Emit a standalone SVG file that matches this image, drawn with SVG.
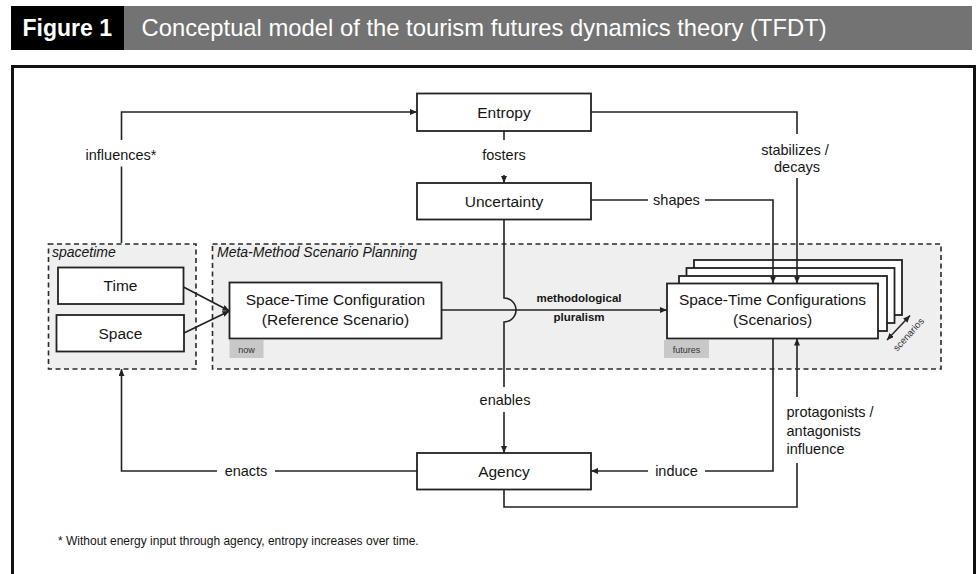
<svg xmlns="http://www.w3.org/2000/svg" width="980" height="574" viewBox="0 0 980 574">
<style>
text{font-family:"Liberation Sans",Arial,sans-serif;fill:#151515}
.box{fill:#fff;stroke:#222;stroke-width:1.8}
.grp{fill:#efefef;stroke:#2a2a2a;stroke-width:1.6;stroke-dasharray:5 3.5}
.ln{fill:none;stroke:#222;stroke-width:1.6}
.bt{font-size:15.5px;text-anchor:middle}
.lb{font-size:14.5px;text-anchor:middle}
.gl{font-size:14px;font-style:italic}
.tag{fill:#c8c8c8}
.tt{font-size:9px;text-anchor:middle;fill:#333}
.mp{font-size:11.5px;font-weight:bold;text-anchor:middle}
</style>
<defs>
<marker id="ah" markerUnits="userSpaceOnUse" markerWidth="7" markerHeight="6" refX="7" refY="3" orient="auto-start-reverse" viewBox="0 0 7 6">
<path d="M0,0 L7,3 L0,6 z" fill="#222"/>
</marker>
</defs>
<rect width="980" height="574" fill="#fff"/>
<g id="title">
<rect x="11" y="6" width="113" height="44" fill="#000"/>
<rect x="124" y="6" width="848" height="44" fill="#737373"/>
<text x="22.5" y="36" style="font-size:23px;font-weight:bold;fill:#fff">Figure 1</text>
<text x="141.5" y="36" style="font-size:23.8px;fill:#fff">Conceptual model of the tourism futures dynamics theory (TFDT)</text>
</g>
<rect x="12.5" y="66.5" width="962" height="520" fill="none" stroke="#111" stroke-width="3"/>
<g id="spacetime">
<rect class="grp" x="48.5" y="244" width="147.5" height="125"/>
<text class="gl" x="52" y="257">spacetime</text>
</g>
<g id="meta-method">
<rect class="grp" x="212.5" y="244" width="728.5" height="125"/>
<text class="gl" x="217" y="257">Meta-Method Scenario Planning</text>
</g>
<g id="entropy">
<rect class="box" x="417" y="93.5" width="174" height="37.5"/>
<text class="bt" x="504" y="117.5">Entropy</text>
</g>
<g id="uncertainty">
<rect class="box" x="417" y="183" width="174" height="36.5"/>
<text class="bt" x="504" y="206.5">Uncertainty</text>
</g>
<g id="time">
<rect class="box" x="58" y="267.5" width="125.5" height="36.5"/>
<text class="bt" x="120.5" y="291">Time</text>
</g>
<g id="space">
<rect class="box" x="56.5" y="315" width="127.5" height="36.5"/>
<text class="bt" x="120.5" y="338.5">Space</text>
</g>
<g id="reference-scenario">
<rect class="box" x="229.5" y="282.5" width="212" height="56"/>
<text class="bt" x="335.5" y="305">Space-Time Configuration</text>
<text class="bt" x="335.5" y="325">(Reference Scenario)</text>
<rect class="tag" x="229.5" y="340" width="34" height="18"/>
<text class="tt" x="246.5" y="352.5">now</text>
</g>
<g id="scenarios">
<rect class="box" x="694" y="260" width="208" height="55"/>
<rect class="box" x="686.5" y="268" width="208" height="55"/>
<rect class="box" x="679" y="276" width="208" height="55"/>
<rect class="box" x="667" y="283.5" width="211" height="55"/>
<text class="bt" x="772.5" y="305">Space-Time Configurations</text>
<text class="bt" x="772.5" y="325">(Scenarios)</text>
<rect class="tag" x="664" y="340" width="45" height="18"/>
<text class="tt" x="686.5" y="352.5">futures</text>
<path class="ln" d="M887,340 L910,315.5" marker-start="url(#ah)" marker-end="url(#ah)" style="stroke-width:1.5"/>
<text x="908" y="338" transform="rotate(-48 908 334)" style="font-size:9.5px;text-anchor:middle;fill:#333">scenarios</text>
</g>
<g id="agency">
<rect class="box" x="417" y="453" width="174" height="36.5"/>
<text class="bt" x="504" y="476.5">Agency</text>
</g>
<g id="connectors">
<path class="ln" d="M121.5,243 V166.5"/>
<path class="ln" d="M121.5,140 V112 H417" marker-end="url(#ah)"/>
<text class="lb" x="121" y="159.5">influences*</text>
<path class="ln" d="M504,131 V140"/>
<path class="ln" d="M504,175 V183" marker-end="url(#ah)"/>
<text class="lb" x="504" y="159.5">fosters</text>
<path class="ln" d="M591,112 H797 V134"/>
<path class="ln" d="M797,178 V283.5" marker-end="url(#ah)"/>
<text class="lb" x="795" y="155">stabilizes /</text>
<text class="lb" x="797" y="172">decays</text>
<path class="ln" d="M591,200 H648"/>
<path class="ln" d="M705,200 H773 V283.5" marker-end="url(#ah)"/>
<text class="lb" x="676.5" y="205">shapes</text>
<path class="ln" d="M183.5,287 L229.5,311" marker-end="url(#ah)"/>
<path class="ln" d="M184,333 L229.5,311" marker-end="url(#ah)"/>
<path class="ln" d="M441.5,310 H667" marker-end="url(#ah)"/>
<text class="mp" x="579" y="302">methodological</text>
<text class="mp" x="579" y="321">pluralism</text>
<path class="ln" d="M504,219.5 V298 A12,12 0 0 1 504,322 V387"/>
<path class="ln" d="M504,412 V453" marker-end="url(#ah)"/>
<text class="lb" x="505" y="405">enables</text>
<path class="ln" d="M773,338.5 V471 H705"/>
<path class="ln" d="M648,471 H591" marker-end="url(#ah)"/>
<text class="lb" x="676.5" y="476">induce</text>
<path class="ln" d="M504,489.5 V507 H797 V463"/>
<path class="ln" d="M797,397 V338.5" marker-end="url(#ah)"/>
<text x="786.5" y="417" style="font-size:14.5px">protagonists /</text>
<text x="786.5" y="435.5" style="font-size:14.5px">antagonists</text>
<text x="786.5" y="454" style="font-size:14.5px">influence</text>
<path class="ln" d="M417,471 H275"/>
<path class="ln" d="M217,471 H121.5 V369" marker-end="url(#ah)"/>
<text class="lb" x="246" y="476">enacts</text>
</g>
<text x="58" y="545" style="font-size:12px">* Without energy input through agency, entropy increases over time.</text>
</svg>
